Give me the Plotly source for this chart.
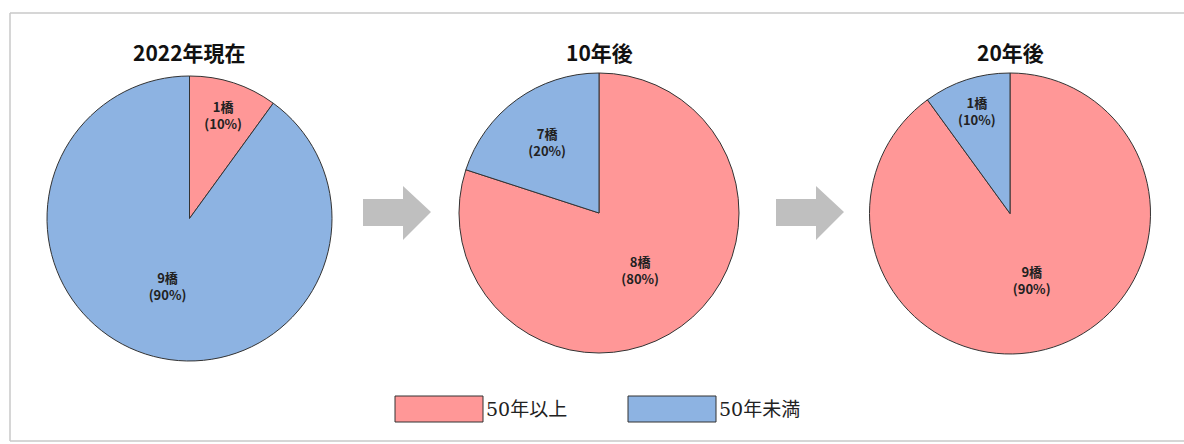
import plotly.graph_objects as go

# ---- data ----
titles = ["2022年現在", "10年後", "20年後"]
categories = ["50年以上", "50年未満"]
pct_2022 = [10, 90]
pct_10y = [80, 20]
pct_20y = [90, 10]
labels_2022 = ["<b>1橋<br>(10%)</b>", "<b>9橋<br>(90%)</b>"]
labels_10y = ["<b>8橋<br>(80%)</b>", "<b>7橋<br>(20%)</b>"]
labels_20y = ["<b>9橋<br>(90%)</b>", "<b>1橋<br>(10%)</b>"]

colors = ["#FF9797", "#8DB3E2"]
W, H = 1184, 444

def px_x(v):
    return v / W

def px_y(v):
    return 1 - v / H

domains = [
    dict(x=[px_x(46), px_x(333)], y=[px_y(361), px_y(76)]),
    dict(x=[px_x(458), px_x(740)], y=[px_y(353), px_y(73)]),
    dict(x=[px_x(868), px_x(1152)], y=[px_y(354), px_y(73)]),
]
centers_x = [189.5, 599, 1010]

fig = go.Figure()
for vals, txt, dom in zip([pct_2022, pct_10y, pct_20y],
                          [labels_2022, labels_10y, labels_20y], domains):
    fig.add_trace(go.Pie(
        labels=categories, values=vals, text=txt, textinfo="text",
        sort=False, direction="clockwise", rotation=0,
        marker=dict(colors=colors, line=dict(color="#333333", width=1)),
        textposition="inside", insidetextorientation="horizontal",
        textfont=dict(family="Noto Sans CJK JP", size=13, color="#222222"),
        domain=dom, showlegend=False, hoverinfo="label+percent",
    ))

annotations = []
for t, cx in zip(titles, centers_x):
    annotations.append(dict(
        text="<b>%s</b>" % t, x=px_x(cx), y=px_y(52), xref="paper", yref="paper",
        showarrow=False, xanchor="center", yanchor="middle",
        font=dict(family="Noto Sans CJK JP", size=21, color="#111111")))

shapes = []
# outer frame (top, left, bottom edges)
frame_color = "#C8C8C8"
for x0, y0, x1, y1 in [(10, 13, W + 5, 13), (10, 13, 10, 441), (10, 441, W + 5, 441)]:
    shapes.append(dict(type="line", xref="paper", yref="paper",
                       x0=px_x(x0), y0=px_y(y0), x1=px_x(x1), y1=px_y(y1),
                       line=dict(color=frame_color, width=1.5)))

# arrows between pies
def arrow_path(x0):
    pts = [(x0, 199), (x0 + 40, 199), (x0 + 40, 186), (x0 + 68, 212),
           (x0 + 40, 240), (x0 + 40, 226), (x0, 226)]
    return "M " + " L ".join("%f,%f" % (px_x(a), px_y(b)) for a, b in pts) + " Z"

for x0 in [363, 776]:
    shapes.append(dict(type="path", xref="paper", yref="paper", path=arrow_path(x0),
                       fillcolor="#BFBFBF", line=dict(width=0)))

# legend swatches
legend_x = [395, 628]
for c, lab, lx in zip(colors, categories, legend_x):
    shapes.append(dict(type="rect", xref="paper", yref="paper",
                       x0=px_x(lx), x1=px_x(lx + 88), y0=px_y(422), y1=px_y(396),
                       fillcolor=c, line=dict(color="#333333", width=1)))
    annotations.append(dict(
        text=lab, x=px_x(lx + 89), y=px_y(409), xref="paper", yref="paper",
        showarrow=False, xanchor="left", yanchor="middle",
        font=dict(family="DejaVu Serif, Noto Sans CJK JP", size=19, color="#222222")))

fig.update_layout(
    width=W, height=H, margin=dict(l=0, r=0, t=0, b=0),
    paper_bgcolor="white", plot_bgcolor="white",
    annotations=annotations, shapes=shapes,
)

fig.write_html("out.html", config={"displayModeBar": False},
               post_script="document.body.style.margin='0';document.body.style.overflow='hidden';")
